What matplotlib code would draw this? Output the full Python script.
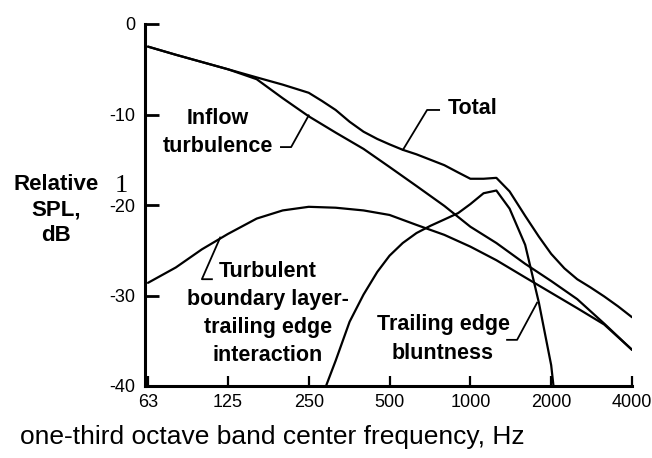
import matplotlib
matplotlib.use("Agg")
import matplotlib.pyplot as plt
from matplotlib.ticker import NullLocator

plt.rcParams['font.family'] = ['Liberation Sans', 'DejaVu Sans']

# one-third octave band levels, dB relative
band_freq = [63, 80, 100, 125, 160, 200, 250, 315, 400, 500, 630, 800,
             1000, 1250, 1600, 2000, 2500, 3150, 4000]
inflow_db = [-2.5, -3.4, -4.2, -5.0, -6.1, -8.2, -10.2, -12.0, -13.8, -15.8,
             -17.9, -20.1, -22.4, -24.2, -26.5, -28.4, -30.4, -33.1, -36.0]
tbl_db = [-28.6, -26.9, -24.9, -23.2, -21.5, -20.6, -20.2, -20.3, -20.6, -21.1,
          -22.2, -23.3, -24.6, -26.1, -28.0, -29.7, -31.4, -33.2, -36.0]

blunt_freq = [290, 315, 355, 400, 450, 500, 560, 630, 710, 800, 900, 1000,
              1120, 1250, 1400, 1600, 1800, 2000, 2040]
blunt_db = [-40.0, -37.2, -32.9, -29.9, -27.4, -25.6, -24.2, -23.1, -22.3,
            -21.6, -20.9, -19.9, -18.7, -18.4, -20.4, -24.4, -30.8, -37.7, -40.0]

total_freq = [63, 80, 100, 125, 160, 200, 250, 280, 315, 355, 400, 450, 500,
              560, 630, 710, 800, 900, 1000, 1120, 1250, 1400, 1600, 1800,
              2000, 2240, 2500, 2800, 3150, 3550, 4000]
total_db = [-2.5, -3.4, -4.2, -5.0, -5.9, -6.7, -7.6, -8.5, -9.5, -10.8, -11.9,
            -12.7, -13.3, -13.9, -14.4, -15.0, -15.6, -16.4, -17.1, -17.1,
            -17.0, -18.5, -21.2, -23.5, -25.4, -27.0, -28.2, -29.1, -30.1,
            -31.2, -32.4]

xticks = [63, 125, 250, 500, 1000, 2000, 4000]
xtick_labels = ["63", "125", "250", "500", "1000", "2000", "4000"]
yticks = [0, -10, -20, -30, -40]
ytick_labels = ["0", "-10", "-20", "-30", "-40"]

fig = plt.figure(figsize=(6.52, 4.58), dpi=100)
ax = fig.add_axes([145 / 652, 72 / 458, 487 / 652, 362 / 458])

line_kw = dict(color="black", lw=1.6, solid_joinstyle="round", solid_capstyle="round")
ax.plot(band_freq, inflow_db, **line_kw)
ax.plot(band_freq, tbl_db, **line_kw)
ax.plot(blunt_freq, blunt_db, **line_kw)
ax.plot(total_freq, total_db, **line_kw)

ax.set_xscale("log", base=2)
ax.set_xlim(61.4, 4000)
ax.set_ylim(-40, 0)
ax.set_xticks(xticks)
ax.set_xticklabels(xtick_labels)
ax.xaxis.set_minor_locator(NullLocator())
ax.set_yticks(yticks)
ax.set_yticklabels(ytick_labels)

for side in ("top", "right"):
    ax.spines[side].set_visible(False)
for side in ("left", "bottom"):
    ax.spines[side].set_linewidth(2.2)
ax.tick_params(axis="y", direction="in", length=10, width=2.0, labelsize=13, pad=7)
ax.tick_params(axis="x", direction="in", length=7.5, width=1.6, labelsize=13, pad=6)

# curve labels with leader lines
lab_kw = dict(fontsize=15.5, fontweight="bold", ha="center", va="center",
              multialignment="center", linespacing=1.45)
lead_kw = dict(color="black", lw=1.3)

ax.text(115, -12.0, "Inflow\nturbulence", **lab_kw)
ax.plot([197, 215, 250], [-13.6, -13.6, -10.1], **lead_kw)

ax.text(826, -9.3, "Total", fontsize=15.5, fontweight="bold", ha="left", va="center")
ax.plot([765, 690, 561], [-9.5, -9.5, -13.9], **lead_kw)

ax.text(176, -32.0, "Turbulent\nboundary layer-\ntrailing edge\ninteraction", **lab_kw)
ax.plot([117, 100, 109], [-23.6, -28.2, -28.2], **lead_kw)

ax.text(791, -34.8, "Trailing edge\nbluntness", **lab_kw)
ax.plot([1370, 1493, 1772], [-34.9, -34.9, -30.8], **lead_kw)

# axis titles
fig.text(56 / 652, 1 - 210 / 458, "Relative\nSPL,\ndB", fontsize=16, fontweight="bold",
         ha="center", va="center", multialignment="center", linespacing=1.25)
fig.text(121 / 652, 1 - 186 / 458, "1", fontsize=19, family="Liberation Serif",
         ha="center", va="center")
fig.text(20 / 652, 1 - 437 / 458, "one-third octave band center frequency, Hz",
         fontsize=19, ha="left", va="center")

fig.savefig("out.png", dpi=100, facecolor="white")
